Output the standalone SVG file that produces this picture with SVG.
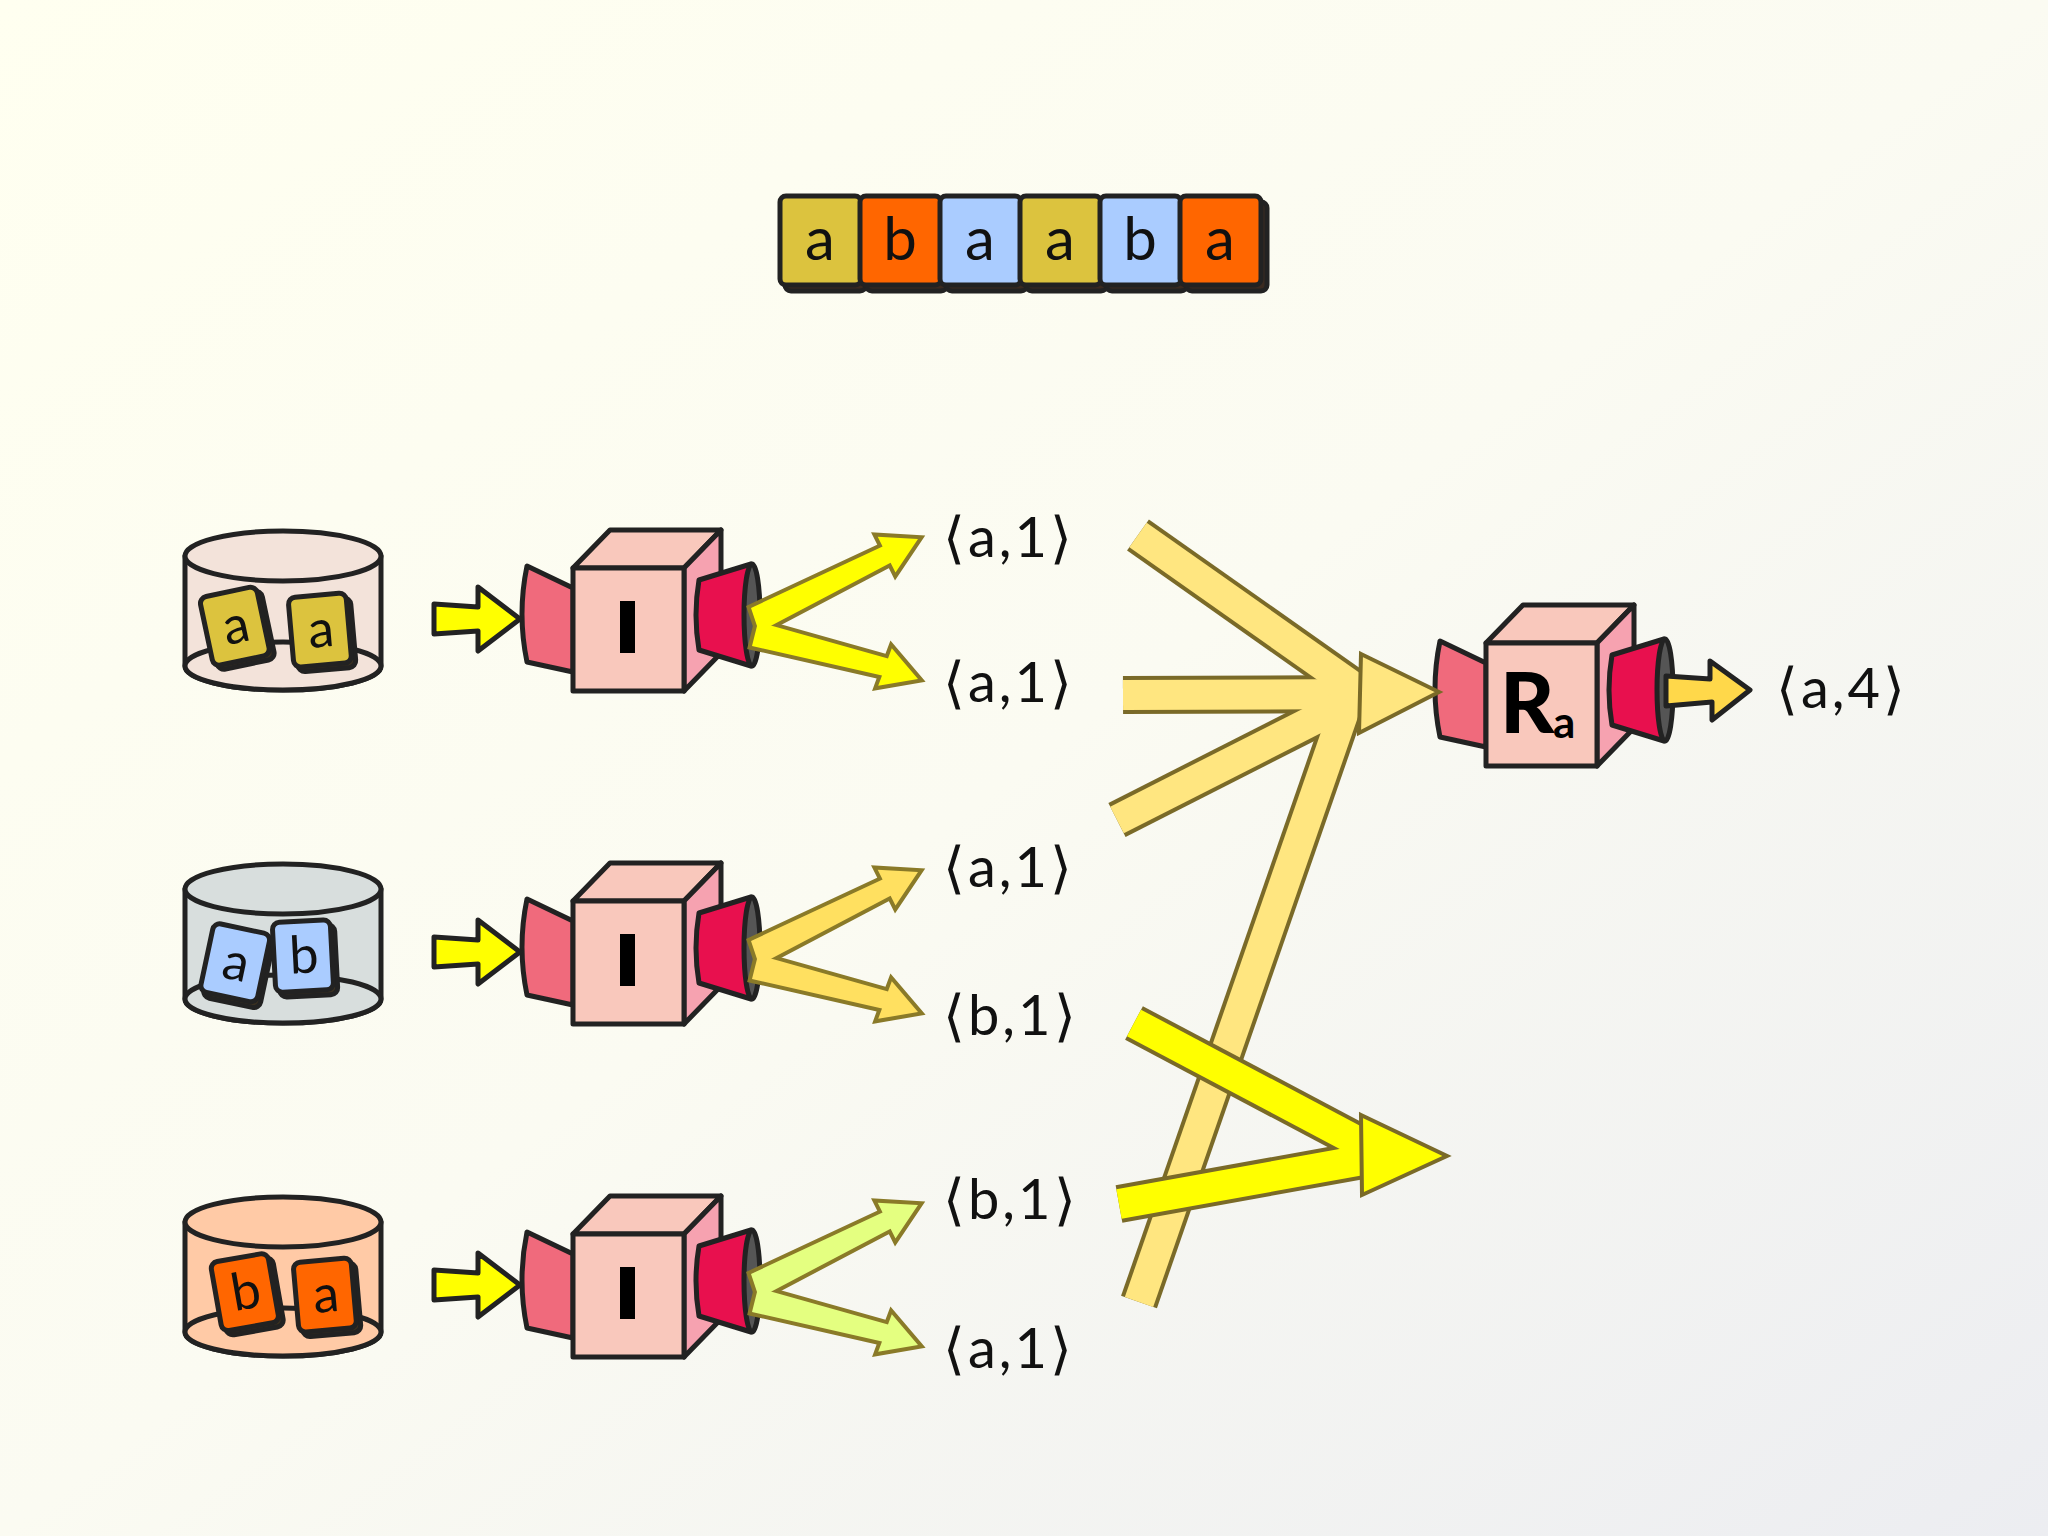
<svg xmlns="http://www.w3.org/2000/svg" width="2048" height="1536" viewBox="0 0 2048 1536">
<defs>
<linearGradient id="bg" x1="0" y1="0" x2="1" y2="1"><stop offset="0" stop-color="#fffff0"/><stop offset="0.5" stop-color="#fbfbf2"/><stop offset="1" stop-color="#ecedf1"/></linearGradient>
<style>
.ol{stroke:#222;stroke-width:5;stroke-linejoin:round}
.lbl{font-family:Lato,"Open Sans",sans-serif;font-size:56px;fill:#111;letter-spacing:3px}
.tl{font-family:Lato,"Open Sans",sans-serif;font-size:60px;fill:#111;text-anchor:middle}
.st{font-family:Lato,"Open Sans",sans-serif;font-size:52px;fill:#111;text-anchor:middle}
.fan{stroke:#8a7a28;stroke-width:8;stroke-linejoin:miter}
.big{stroke:#7a6a28;stroke-linecap:butt}
</style>
<g id="cube">
<path class="ol" fill="#f06a7c" d="M0,20 L-46,-2 Q-56,46 -46,94 L0,104 Z"/>
<polygon class="ol" fill="#f9c8bc" points="0,0 37,-38 148,-38 111,0"/>
<polygon class="ol" fill="#f6a2b0" points="111,0 148,-38 148,85 111,123"/>
<rect class="ol" fill="#f9c8bc" x="0" y="0" width="111" height="123"/>
<path class="ol" fill="#e8104e" d="M126,12 L178,-4 L178,98 L126,82 Q120,47 126,12 Z"/>
<ellipse class="ol" fill="#555" cx="179" cy="47" rx="8" ry="51"/>
</g>
<polygon id="inarr" class="ol" fill="#ffff00" stroke-width="6" points="434,604 478,607 478,587 520,619 478,651 478,631 434,634"/>
<g id="fanshape">
<polygon points="759,632 890.6,562.7 895.5,572.5 918,539 877.7,536.7 882.6,546.5 751,608"/>
<polygon points="752,646 882,675.5 878.2,685.8 918,679 891.8,648.2 888,658.5 758,622"/>
</g>
<g id="tile"><rect x="-26" y="-31" width="58" height="70" rx="7" fill="#3a3020" class="ol" stroke-width="3"/><rect x="-30" y="-36" width="58" height="70" rx="7" class="ol" stroke-width="4"/></g>
</defs>
<rect width="2048" height="1536" fill="url(#bg)"/>

<g id="strip">
<g fill="#3a2a20" class="ol" stroke-width="4">
<rect x="785" y="202" width="81" height="89" rx="6"/><rect x="866" y="202" width="81" height="89" rx="6"/><rect x="946" y="202" width="81" height="89" rx="6"/><rect x="1026" y="202" width="81" height="89" rx="6"/><rect x="1106" y="202" width="81" height="89" rx="6"/><rect x="1186" y="202" width="81" height="89" rx="6"/>
</g>
<rect class="ol" stroke-width="4" fill="#dcc33e" x="780" y="196" width="81" height="89" rx="6"/>
<rect class="ol" stroke-width="4" fill="#ff6600" x="860" y="196" width="81" height="89" rx="6"/>
<rect class="ol" stroke-width="4" fill="#aaccff" x="940" y="196" width="81" height="89" rx="6"/>
<rect class="ol" stroke-width="4" fill="#dcc33e" x="1020" y="196" width="81" height="89" rx="6"/>
<rect class="ol" stroke-width="4" fill="#aaccff" x="1100" y="196" width="81" height="89" rx="6"/>
<rect class="ol" stroke-width="4" fill="#ff6600" x="1180" y="196" width="81" height="89" rx="6"/>
<text class="tl" x="820" y="260">a</text><text class="tl" x="900" y="260">b</text><text class="tl" x="980" y="260">a</text><text class="tl" x="1060" y="260">a</text><text class="tl" x="1140" y="260">b</text><text class="tl" x="1220" y="260">a</text>
</g>

<g id="db1">
<path class="ol" fill="#f3e3da" d="M185,556 L185,666 A98,24 0 0 0 381,666 L381,556 Z"/>
<ellipse class="ol" fill="#f3e3da" cx="283" cy="666" rx="98" ry="24"/>
<ellipse class="ol" fill="#f3e3da" cx="283" cy="556" rx="98" ry="25"/>
<g transform="translate(236,627) rotate(-12)"><use href="#tile" fill="#dcc33e"/><text class="st" y="16">a</text></g>
<g transform="translate(321,631) rotate(-5)"><use href="#tile" fill="#dcc33e"/><text class="st" y="16">a</text></g>
</g>
<g id="db2">
<path class="ol" fill="#d8dedd" d="M185,889 L185,999 A98,24 0 0 0 381,999 L381,889 Z"/>
<ellipse class="ol" fill="#d8dedd" cx="283" cy="999" rx="98" ry="24"/>
<ellipse class="ol" fill="#d8dedd" cx="283" cy="889" rx="98" ry="25"/>
<g transform="translate(236,964) rotate(12)"><use href="#tile" fill="#aaccff"/><text class="st" y="16">a</text></g>
<g transform="translate(304,957) rotate(-3)"><use href="#tile" fill="#aaccff"/><text class="st" y="16">b</text></g>
</g>
<g id="db3">
<path class="ol" fill="#ffcaa6" d="M185,1222 L185,1332 A98,24 0 0 0 381,1332 L381,1222 Z"/>
<ellipse class="ol" fill="#ffcaa6" cx="283" cy="1332" rx="98" ry="24"/>
<ellipse class="ol" fill="#ffcaa6" cx="283" cy="1222" rx="98" ry="25"/>
<g transform="translate(246,1293) rotate(-10)"><use href="#tile" fill="#ff6600"/><text class="st" y="16">b</text></g>
<g transform="translate(326,1296) rotate(-5)"><use href="#tile" fill="#ff6600"/><text class="st" y="16">a</text></g>
</g>

<g id="map1"><use href="#cube" transform="translate(573,568)"/><rect x="620" y="601" width="15" height="52" fill="#000"/></g>
<g id="map2"><use href="#cube" transform="translate(573,901)"/><rect x="620" y="934" width="15" height="52" fill="#000"/></g>
<g id="map3"><use href="#cube" transform="translate(573,1234)"/><rect x="620" y="1267" width="15" height="52" fill="#000"/></g>
<g id="reduce"><use href="#cube" transform="translate(1486,643)"/>
<text x="1500" y="733" font-family="Lato,'Open Sans',sans-serif" font-weight="900" font-size="84" fill="#000">R</text>
<text x="1553" y="738" font-family="Lato,'Open Sans',sans-serif" font-weight="700" font-size="44" fill="#000">a</text>
</g>

<g id="connectors">
<use href="#inarr"/><use href="#inarr" transform="translate(0,333)"/><use href="#inarr" transform="translate(0,666)"/>
<use href="#fanshape" class="fan"/><use href="#fanshape" fill="#ffff00"/>
<g transform="translate(0,333)"><use href="#fanshape" class="fan"/><use href="#fanshape" fill="#ffe060"/></g>
<g transform="translate(0,666)"><use href="#fanshape" class="fan"/><use href="#fanshape" fill="#e4ff80"/></g>

<g class="big" stroke-width="38">
<line x1="1138" y1="535" x2="1365" y2="695"/><line x1="1123" y1="695" x2="1365" y2="694"/><line x1="1117" y1="820" x2="1365" y2="694"/><line x1="1139" y1="1302" x2="1348" y2="700"/>
</g>
<g stroke="#ffe680" stroke-width="30" stroke-linecap="butt">
<line x1="1138" y1="535" x2="1365" y2="695"/><line x1="1123" y1="695" x2="1365" y2="694"/><line x1="1117" y1="820" x2="1365" y2="694"/><line x1="1139" y1="1302" x2="1348" y2="700"/>
</g>
<polygon points="1361,654 1439,692 1359,733" fill="#ffe680" stroke="#7a6a28" stroke-width="4" stroke-linejoin="miter"/>
<g class="big" stroke-width="38">
<line x1="1134" y1="1023" x2="1385" y2="1156"/><line x1="1119" y1="1204" x2="1385" y2="1156"/>
</g>
<g stroke="#ffff00" stroke-width="30" stroke-linecap="butt">
<line x1="1134" y1="1023" x2="1385" y2="1156"/><line x1="1119" y1="1204" x2="1385" y2="1156"/>
</g>
<polygon points="1361,1115 1447,1156 1362,1195" fill="#ffff00" stroke="#7a6a28" stroke-width="4"/>
<polygon class="ol" fill="#ffd84a" stroke-width="6" points="1666,676 1710,679 1710,661 1750,690 1712,720 1712,702 1666,706"/>
</g>

<g id="labels">
<text class="lbl" x="943" y="557">⟨a,1⟩</text>
<text class="lbl" x="943" y="702">⟨a,1⟩</text>
<text class="lbl" x="943" y="887">⟨a,1⟩</text>
<text class="lbl" x="943" y="1035">⟨b,1⟩</text>
<text class="lbl" x="943" y="1219">⟨b,1⟩</text>
<text class="lbl" x="943" y="1368">⟨a,1⟩</text>
<text class="lbl" x="1776" y="708">⟨a,4⟩</text>
</g>
</svg>
